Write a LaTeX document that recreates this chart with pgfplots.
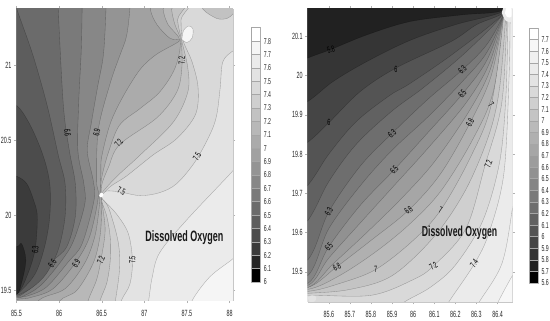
\documentclass[border=0pt]{standalone}
\usepackage{fontspec}
\setmainfont[FakeStretch=0.6]{Liberation Sans}
\usepackage{pgfplots}
\pgfplotsset{compat=1.18}
% grey of each contour band, left chart 6.0 ... 7.9
\definecolor{la}{gray}{.00}\definecolor{lb}{gray}{.144}\definecolor{lc}{gray}{.23}\definecolor{ld}{gray}{.30}
\definecolor{le}{gray}{.365}\definecolor{lf}{gray}{.42}\definecolor{lg}{gray}{.48}\definecolor{lh}{gray}{.53}
\definecolor{li}{gray}{.58}\definecolor{lj}{gray}{.63}\definecolor{lk}{gray}{.67}\definecolor{ll}{gray}{.72}
\definecolor{lm}{gray}{.76}\definecolor{ln}{gray}{.81}\definecolor{lo}{gray}{.85}\definecolor{lp}{gray}{.89}
\definecolor{lq}{gray}{.92}\definecolor{lr}{gray}{.96}\definecolor{ls}{gray}{1}
% grey of each contour band, right chart 5.6 ... 7.8
\definecolor{ra}{gray}{.00}\definecolor{rb}{gray}{.13}\definecolor{rc}{gray}{.207}\definecolor{rd}{gray}{.27}
\definecolor{re}{gray}{.33}\definecolor{rf}{gray}{.38}\definecolor{rg}{gray}{.43}\definecolor{rh}{gray}{.48}
\definecolor{ri}{gray}{.52}\definecolor{rj}{gray}{.57}\definecolor{rk}{gray}{.61}\definecolor{rl}{gray}{.65}
\definecolor{rm}{gray}{.69}\definecolor{rn}{gray}{.73}\definecolor{ro}{gray}{.77}\definecolor{rp}{gray}{.81}
\definecolor{rq}{gray}{.85}\definecolor{rr}{gray}{.89}\definecolor{rs}{gray}{.92}\definecolor{rt}{gray}{.94}
\definecolor{ru}{gray}{.97}\definecolor{rv}{gray}{1}
\tikzset{lab/.style={font=\fontsize{9}{9}\selectfont,text=black,inner sep=0pt}}
\pgfplotsset{
  c/.style={draw=black,draw opacity=.28,line width=.35pt,fill=#1,smooth,tension=.55,mark=none},
  w/.style={draw=none,fill=#1,smooth,tension=.55,mark=none},
  b/.style={draw=black!35,line width=.4pt,fill=#1,mark=none},
  panel/.style={scale only axis,anchor=south west,
    tick align=outside,major tick length=2.5pt,
    tick style={color=black!30,line width=.4pt},
    axis line style={color=black!22,line width=.4pt},
    tick label style={font=\fontsize{9}{9}\selectfont,text=black!85},
    /pgf/number format/assume math mode=true,
    /pgf/number format/fixed,/pgf/number format/precision=1,
    xticklabel style={yshift=-3.5pt},
    yticklabel style={xshift=1pt},
    clip=true},
  cbar/.style={scale only axis,anchor=south west,xmin=0,xmax=1,xtick=\empty,
    ytick pos=right,yticklabel pos=right,major tick length=0pt,
    axis line style={color=black!30,line width=.4pt},
    tick label style={font=\fontsize{8.6}{9}\selectfont,text=black!85},
    /pgf/number format/assume math mode=true,
    yticklabel style={xshift=0pt}}
}
\begin{document}
\begin{tikzpicture}
\path[use as bounding box] (0pt,0pt) rectangle (550pt,321pt);
% ---------- left contour chart
\begin{axis}[panel,at={(16.5pt,20.3pt)},width=216.5pt,height=291.7pt,
  xmin=85.5,xmax=88.04,ymin=19.43,ymax=21.373,
  xtick={85.5,86,86.5,87,87.5,88},ytick={19.5,20,20.5,21}]
\addplot[fill=lr,draw=none] coordinates {(85,19) (89,19) (89,22) (85,22)};
\addplot[c=lq] coordinates {(87.5,19.3)(87.56,19.43)(87.77,19.59)(88.04,19.71)(88.15,19.78)(88.25,20)(88.25,21.5)(85.3,21.5)(85.3,19.3)};
\addplot[c=lp] coordinates {(87.0,19.3)(87.05,19.43)(87.09,19.58)(87.18,19.75)(87.5,19.97)(88.03,20.29)(88.15,20.38)(88.25,20.6)(88.25,21.5)(85.3,21.5)(85.3,19.3)};
\addplot[c=lo] coordinates {(86.68,19.3)(86.73,19.43)(86.83,19.54)(86.86,19.70)(86.81,19.88)(86.67,20.01)(86.52,20.1)(86.49,20.13)(86.55,20.16)(86.71,20.155)(86.95,20.13)(87.18,20.15)(87.38,20.21)(87.6,20.36)(87.78,20.55)(87.85,20.67)(87.89,20.85)(87.92,21.02)(88.03,21.09)(88.15,21.12)(88.25,21.2)(88.25,21.5)(85.3,21.5)(85.3,19.3)};
\addplot[c=ln] coordinates {(86.61,19.3)(86.66,19.43)(86.71,19.65)(86.69,19.83)(86.58,20.05)(86.5,20.12)(86.6,20.19)(86.79,20.26)(87.1,20.4)(87.38,20.51)(87.6,20.67)(87.63,20.85)(87.56,21.02)(87.45,21.17)(87.43,21.3)(87.43,21.5)(85.3,21.5)(85.3,19.3)};
\addplot[c=lm] coordinates {(86.43,19.3)(86.48,19.43)(86.56,19.55)(86.60,19.7)(86.6,19.85)(86.56,19.99)(86.49,20.12)(86.55,20.18)(86.7,20.27)(86.95,20.4)(87.34,20.62)(87.51,20.82)(87.51,20.98)(87.44,21.16)(87.39,21.3)(87.39,21.5)(85.3,21.5)(85.3,19.3)};
\addplot[c=ll] coordinates {(86.29,19.3)(86.34,19.43)(86.44,19.57)(86.49,19.70)(86.54,19.9)(86.5,20.1)(86.5,20.2)(86.58,20.32)(86.71,20.47)(87.15,20.65)(87.38,20.82)(87.44,20.98)(87.43,21.16)(87.36,21.267)(87.32,21.37)(87.32,21.5)(85.3,21.5)(85.3,19.3)};
\addplot[c=lk] coordinates {(85.95,19.3)(86.01,19.43)(86.21,19.5)(86.40,19.68)(86.48,19.86)(86.5,20.05)(86.49,20.15)(86.5,20.25)(86.58,20.42)(86.71,20.6)(86.95,20.71)(87.18,20.82)(87.36,20.98)(87.42,21.16)(87.28,21.267)(87.22,21.37)(87.22,21.5)(85.3,21.5)(85.3,19.3)};
\addplot[c=lj] coordinates {(85.55,19.3)(85.78,19.44)(86.07,19.51)(86.30,19.68)(86.42,19.86)(86.47,20.05)(86.48,20.14)(86.49,20.28)(86.50,20.39)(86.60,20.61)(86.75,20.79)(86.95,20.97)(87.14,21.07)(87.41,21.16)(87.3,21.178)(87.15,21.267)(87.07,21.37)(87.07,21.5)(85.3,21.5)(85.3,19.3)};
\addplot[c=li] coordinates {(86.83,21.5)(86.83,21.373)(86.79,21.19)(86.71,21.06)(86.6,20.88)(86.46,20.57)(86.44,20.23)(86.46,20.12)(86.36,19.86)(86.2,19.69)(85.93,19.51)(85.66,19.45)(85.52,19.44)(85.3,19.42)(85.2,19.4)(85.2,21.5)};
\addplot[c=lh] coordinates {(86.55,21.5)(86.55,21.373)(86.52,21.07)(86.45,20.85)(86.38,20.62)(86.33,20.43)(86.40,20.23)(86.41,20.10)(86.27,19.81)(86.11,19.69)(85.85,19.52)(85.62,19.46)(85.52,19.45)(85.3,19.44)(85.2,19.4)(85.2,21.5)};
\addplot[c=lg] coordinates {(86.27,21.5)(86.27,21.373)(86.26,21.1)(86.23,20.75)(86.22,20.43)(86.29,20.21)(86.30,20.07)(86.17,19.83)(86.02,19.69)(85.78,19.53)(85.58,19.46)(85.51,19.455)(85.3,19.45)(85.2,19.4)(85.2,21.5)};
\addplot[c=lf] coordinates {(85.99,21.5)(85.99,21.373)(86.05,20.73)(86.12,20.43)(86.19,20.21)(86.19,19.99)(86.09,19.79)(85.92,19.69)(85.74,19.55)(85.56,19.47)(85.5,19.46)(85.3,19.45)(85.2,19.4)(85.2,21.5)};
\addplot[c=le] coordinates {(85.45,21.5)(85.5,21.38)(85.69,21.07)(85.86,20.73)(85.99,20.40)(86.07,20.21)(86.07,19.99)(85.99,19.77)(85.85,19.61)(85.69,19.52)(85.53,19.47)(85.45,19.46)(85.3,19.45)(85.2,19.4)(85.2,21.5)};
\addplot[c=ld] coordinates {(85.3,20.75)(85.5,20.73)(85.66,20.6)(85.81,20.40)(85.89,20.21)(85.89,19.99)(85.83,19.79)(85.72,19.61)(85.54,19.49)(85.45,19.46)(85.3,19.45)};
\addplot[c=lc] coordinates {(85.3,20.3)(85.5,20.26)(85.62,20.21)(85.7,20.1)(85.744,19.99)(85.717,19.767)(85.62,19.59)(85.51,19.48)(85.3,19.46)};
\addplot[c=lb] coordinates {(85.3,19.82)(85.5,19.79)(85.56,19.81)(85.61,19.70)(85.56,19.55)(85.5,19.47)(85.3,19.46)};
\addplot[c=lm] coordinates {(87.65,21.45)(87.69,21.37)(87.85,21.31)(87.97,21.31)(88.04,21.34)(88.15,21.4)(88.15,21.5)};
\addplot[c=lr] coordinates {(87.44,21.17)(87.46,21.23)(87.52,21.26)(87.57,21.24)(87.56,21.18)(87.5,21.15)(87.44,21.17)};
\addplot[w=ls] coordinates {(86.47,20.13)(86.49,20.15)(86.52,20.14)(86.505,20.12)(86.48,20.12)(86.47,20.13)};
\node[lab,rotate=-85] at (axis cs:86.1,20.55) {6.6};
\node[lab,rotate=80] at (axis cs:86.44,20.55) {6.9};
\node[lab,rotate=55] at (axis cs:86.7,20.48) {7.2};
\node[lab,rotate=60] at (axis cs:87.62,20.39) {7.5};
\node[lab,rotate=-20] at (axis cs:86.73,20.16) {7.5};
\node[lab,rotate=90] at (axis cs:87.44,21.03) {7.2};
\node[lab,rotate=85] at (axis cs:85.72,19.77) {6.3};
\node[lab,rotate=55] at (axis cs:85.92,19.68) {6.6};
\node[lab,rotate=55] at (axis cs:86.2,19.68) {6.9};
\node[lab,rotate=70] at (axis cs:86.49,19.70) {7.2};
\node[lab,rotate=90] at (axis cs:86.86,19.70) {7.5};
\node[font=\fontsize{15}{15}\selectfont\bfseries,text=black!90,inner sep=0pt] at (axis cs:87.47,19.85) {Dissolved Oxygen};
\end{axis}
% ---------- left colour bar
\begin{axis}[cbar,at={(251pt,39pt)},width=9.3pt,height=254.3pt,ymin=6,ymax=7.9,
  ytick={6,6.1,6.2,6.3,6.4,6.5,6.6,6.7,6.8,6.9,7,7.1,7.2,7.3,7.4,7.5,7.6,7.7,7.8},
  yticklabels={6,6.1,6.2,6.3,6.4,6.5,6.6,6.7,6.8,6.9,7,7.1,7.2,7.3,7.4,7.5,7.6,7.7,7.8}]
\addplot[b=la] coordinates {(0,6.0)(1,6.0)(1,6.1)(0,6.1)} --cycle;
\addplot[b=lb] coordinates {(0,6.1)(1,6.1)(1,6.2)(0,6.2)} --cycle;
\addplot[b=lc] coordinates {(0,6.2)(1,6.2)(1,6.3)(0,6.3)} --cycle;
\addplot[b=ld] coordinates {(0,6.3)(1,6.3)(1,6.4)(0,6.4)} --cycle;
\addplot[b=le] coordinates {(0,6.4)(1,6.4)(1,6.5)(0,6.5)} --cycle;
\addplot[b=lf] coordinates {(0,6.5)(1,6.5)(1,6.6)(0,6.6)} --cycle;
\addplot[b=lg] coordinates {(0,6.6)(1,6.6)(1,6.7)(0,6.7)} --cycle;
\addplot[b=lh] coordinates {(0,6.7)(1,6.7)(1,6.8)(0,6.8)} --cycle;
\addplot[b=li] coordinates {(0,6.8)(1,6.8)(1,6.9)(0,6.9)} --cycle;
\addplot[b=lj] coordinates {(0,6.9)(1,6.9)(1,7.0)(0,7.0)} --cycle;
\addplot[b=lk] coordinates {(0,7.0)(1,7.0)(1,7.1)(0,7.1)} --cycle;
\addplot[b=ll] coordinates {(0,7.1)(1,7.1)(1,7.2)(0,7.2)} --cycle;
\addplot[b=lm] coordinates {(0,7.2)(1,7.2)(1,7.3)(0,7.3)} --cycle;
\addplot[b=ln] coordinates {(0,7.3)(1,7.3)(1,7.4)(0,7.4)} --cycle;
\addplot[b=lo] coordinates {(0,7.4)(1,7.4)(1,7.5)(0,7.5)} --cycle;
\addplot[b=lp] coordinates {(0,7.5)(1,7.5)(1,7.6)(0,7.6)} --cycle;
\addplot[b=lq] coordinates {(0,7.6)(1,7.6)(1,7.7)(0,7.7)} --cycle;
\addplot[b=lr] coordinates {(0,7.7)(1,7.7)(1,7.8)(0,7.8)} --cycle;
\addplot[b=ls] coordinates {(0,7.8)(1,7.8)(1,7.9)(0,7.9)} --cycle;
\end{axis}
% ---------- right contour chart
\begin{axis}[panel,at={(307.7pt,19pt)},width=204.6pt,height=293pt,
  xmin=85.5,xmax=86.47,ymin=19.423,ymax=20.17,
  xtick={85.6,85.7,85.8,85.9,86,86.1,86.2,86.3,86.4},
  ytick={19.5,19.6,19.7,19.8,19.9,20,20.1}]
\addplot[fill=ru,draw=none] coordinates {(85,19) (87,19) (87,21) (85,21)};
\addplot[c=rt] coordinates {(86.35,19.36)(86.40,19.42)(86.47,19.49)(86.55,19.56)(86.6,19.7)(86.6,20.25)(85.3,20.25)(85.3,19.36)};
\addplot[c=rs] coordinates {(86.25,19.36)(86.31,19.42)(86.42,19.52)(86.47,19.66)(86.5,19.8)(86.52,19.95)(86.55,20.25)(85.3,20.25)(85.3,19.36)};
\addplot[c=rr] coordinates {(86.1,19.36)(86.165,19.42)(86.29,19.52)(86.36,19.6)(86.43,19.75)(86.455,20.0)(86.46,20.17)(86.46,20.22)(86.4,20.25)(85.3,20.25)(85.3,19.36)};
\addplot[c=rq] coordinates {(85.88,19.38)(85.95,19.42)(86.08,19.46)(86.2,19.517)(86.33,19.63)(86.41,19.78)(86.44,19.95)(86.45,20.16)(86.45,20.21)(86.4,20.25)(85.3,20.25)(85.3,19.38)};
\addplot[c=rp] coordinates {(85.3,19.43)(85.5,19.44)(85.8,19.44)(86.0,19.48)(86.096,19.515)(86.25,19.61)(86.34,19.77)(86.42,19.93)(86.445,20.16)(86.445,20.21)(86.4,20.25)(85.2,20.25)};
\addplot[c=ro] coordinates {(85.3,19.44)(85.5,19.445)(85.7,19.455)(85.9,19.49)(86.1,19.59)(86.25,19.71)(86.36,19.85)(86.41,19.97)(86.44,20.16)(86.44,20.21)(86.4,20.25)(85.2,20.25)};
\addplot[c=rn] coordinates {(85.3,19.45)(85.5,19.45)(85.65,19.47)(85.823,19.506)(86.0,19.58)(86.13,19.657)(86.27,19.79)(86.37,19.925)(86.43,20.16)(86.43,20.21)(86.38,20.25)(85.2,20.25)};
\addplot[c=rm] coordinates {(85.3,19.455)(85.5,19.455)(85.65,19.49)(85.82,19.55)(85.98,19.62)(86.13,19.705)(86.28,19.835)(86.38,19.96)(86.43,20.16)(86.43,20.21)(86.38,20.25)(85.2,20.25)};
\addplot[c=rl] coordinates {(85.3,19.46)(85.5,19.46)(85.638,19.513)(85.8,19.58)(85.978,19.657)(86.13,19.75)(86.27,19.88)(86.37,20.0)(86.43,20.16)(86.43,20.21)(86.38,20.25)(85.2,20.25)};
\addplot[c=rk] coordinates {(85.3,19.46)(85.5,19.46)(85.62,19.52)(85.78,19.6)(85.95,19.69)(86.1,19.78)(86.26,19.905)(86.365,20.015)(86.43,20.16)(86.43,20.21)(86.38,20.25)(85.2,20.25)};
\addplot[c=rj] coordinates {(85.3,19.46)(85.5,19.465)(85.6,19.535)(85.75,19.625)(85.91,19.72)(86.07,19.815)(86.25,19.93)(86.36,20.03)(86.43,20.16)(86.43,20.21)(86.38,20.25)(85.2,20.25)};
\addplot[c=ri] coordinates {(85.3,19.46)(85.5,19.47)(85.6,19.564)(85.75,19.67)(85.91,19.76)(86.07,19.855)(86.233,19.953)(86.35,20.04)(86.43,20.16)(86.43,20.21)(86.38,20.25)(85.2,20.25)};
\addplot[c=rh] coordinates {(85.3,19.46)(85.5,19.49)(85.6,19.61)(85.75,19.72)(85.9,19.81)(86.07,19.895)(86.233,19.985)(86.35,20.06)(86.43,20.16)(86.43,20.21)(86.38,20.25)(85.2,20.25)};
\addplot[c=rg] coordinates {(85.3,19.46)(85.5,19.53)(85.6,19.653)(85.75,19.77)(85.9,19.853)(86.07,19.94)(86.233,20.015)(86.35,20.08)(86.43,20.16)(86.43,20.21)(86.38,20.25)(85.2,20.25)};
\addplot[c=rf] coordinates {(85.3,19.5)(85.5,19.63)(85.6,19.73)(85.73,19.825)(85.9,19.91)(86.05,19.97)(86.25,20.06)(86.43,20.16)(86.43,20.21)(86.38,20.25)(85.2,20.25)};
\addplot[c=re] coordinates {(85.3,19.6)(85.5,19.72)(85.6,19.80)(85.73,19.883)(85.89,19.95)(85.985,19.98)(86.2,20.06)(86.43,20.16)(86.43,20.21)(86.38,20.25)(85.2,20.25)};
\addplot[c=rd] coordinates {(85.3,19.75)(85.5,19.83)(85.6,19.88)(85.75,19.96)(85.92,20.02)(86.18,20.087)(86.3,20.13)(86.43,20.162)(86.43,20.21)(86.38,20.25)(85.2,20.25)};
\addplot[c=rc] coordinates {(85.3,19.87)(85.5,19.934)(85.62,19.985)(85.78,20.036)(85.985,20.09)(86.2,20.13)(86.43,20.165)(86.43,20.21)(86.38,20.25)(85.2,20.25)};
\addplot[c=rb] coordinates {(85.3,20.0)(85.5,20.045)(85.606,20.066)(85.78,20.104)(85.985,20.138)(86.23,20.155)(86.42,20.166)(86.42,20.21)(86.38,20.25)(85.2,20.25)};
\addplot[w=rs] coordinates {(86.42,20.16)(86.435,20.18)(86.47,20.18)(86.47,20.14)(86.44,20.14)(86.42,20.16)};
\addplot[w=rv] coordinates {(86.435,20.16)(86.445,20.175)(86.465,20.172)(86.465,20.15)(86.445,20.15)(86.435,20.16)};
\addplot[w=rr] coordinates {(85.5,19.435)(85.52,19.44)(85.54,19.436)(85.535,19.425)(85.51,19.423)(85.5,19.435)};
\node[lab,rotate=15] at (axis cs:85.61,20.066) {5.8};
\node[lab] at (axis cs:85.6,19.88) {6};
\node[lab] at (axis cs:85.918,20.017) {6};
\node[lab,rotate=40] at (axis cs:85.9,19.853) {6.3};
\node[lab,rotate=50] at (axis cs:85.91,19.76) {6.5};
\node[lab,rotate=45] at (axis cs:86.233,20.015) {6.3};
\node[lab,rotate=50] at (axis cs:86.233,19.953) {6.5};
\node[lab,rotate=60] at (axis cs:86.27,19.88) {6.8};
\node[lab,rotate=-50] at (axis cs:86.37,19.925) {7};
\node[lab,rotate=70] at (axis cs:86.357,19.775) {7.2};
\node[lab,rotate=60] at (axis cs:85.6,19.653) {6.3};
\node[lab,rotate=50] at (axis cs:85.6,19.564) {6.5};
\node[lab,rotate=30] at (axis cs:85.638,19.513) {6.8};
\node[lab,rotate=40] at (axis cs:85.978,19.657) {6.8};
\node[lab,rotate=-20] at (axis cs:86.13,19.657) {7};
\node[lab,rotate=5] at (axis cs:85.823,19.506) {7};
\node[lab,rotate=35] at (axis cs:86.096,19.515) {7.2};
\node[lab,rotate=55] at (axis cs:86.289,19.521) {7.4};
\node[font=\fontsize{14.5}{15}\selectfont\bfseries,text=black!90,inner sep=0pt] at (axis cs:86.22,19.6) {Dissolved Oxygen};
\end{axis}
% ---------- right colour bar
\begin{axis}[cbar,at={(529pt,38pt)},width=9pt,height=255pt,ymin=5.6,ymax=7.8,
  ytick={5.6,5.7,5.8,5.9,6,6.1,6.2,6.3,6.4,6.5,6.6,6.7,6.8,6.9,7,7.1,7.2,7.3,7.4,7.5,7.6,7.7},
  yticklabels={5.6,5.7,5.8,5.9,6,6.1,6.2,6.3,6.4,6.5,6.6,6.7,6.8,6.9,7,7.1,7.2,7.3,7.4,7.5,7.6,7.7}]
\addplot[b=ra] coordinates {(0,5.6)(1,5.6)(1,5.7)(0,5.7)} --cycle;
\addplot[b=rb] coordinates {(0,5.7)(1,5.7)(1,5.8)(0,5.8)} --cycle;
\addplot[b=rc] coordinates {(0,5.8)(1,5.8)(1,5.9)(0,5.9)} --cycle;
\addplot[b=rd] coordinates {(0,5.9)(1,5.9)(1,6.0)(0,6.0)} --cycle;
\addplot[b=re] coordinates {(0,6.0)(1,6.0)(1,6.1)(0,6.1)} --cycle;
\addplot[b=rf] coordinates {(0,6.1)(1,6.1)(1,6.2)(0,6.2)} --cycle;
\addplot[b=rg] coordinates {(0,6.2)(1,6.2)(1,6.3)(0,6.3)} --cycle;
\addplot[b=rh] coordinates {(0,6.3)(1,6.3)(1,6.4)(0,6.4)} --cycle;
\addplot[b=ri] coordinates {(0,6.4)(1,6.4)(1,6.5)(0,6.5)} --cycle;
\addplot[b=rj] coordinates {(0,6.5)(1,6.5)(1,6.6)(0,6.6)} --cycle;
\addplot[b=rk] coordinates {(0,6.6)(1,6.6)(1,6.7)(0,6.7)} --cycle;
\addplot[b=rl] coordinates {(0,6.7)(1,6.7)(1,6.8)(0,6.8)} --cycle;
\addplot[b=rm] coordinates {(0,6.8)(1,6.8)(1,6.9)(0,6.9)} --cycle;
\addplot[b=rn] coordinates {(0,6.9)(1,6.9)(1,7.0)(0,7.0)} --cycle;
\addplot[b=ro] coordinates {(0,7.0)(1,7.0)(1,7.1)(0,7.1)} --cycle;
\addplot[b=rp] coordinates {(0,7.1)(1,7.1)(1,7.2)(0,7.2)} --cycle;
\addplot[b=rq] coordinates {(0,7.2)(1,7.2)(1,7.3)(0,7.3)} --cycle;
\addplot[b=rr] coordinates {(0,7.3)(1,7.3)(1,7.4)(0,7.4)} --cycle;
\addplot[b=rs] coordinates {(0,7.4)(1,7.4)(1,7.5)(0,7.5)} --cycle;
\addplot[b=rt] coordinates {(0,7.5)(1,7.5)(1,7.6)(0,7.6)} --cycle;
\addplot[b=ru] coordinates {(0,7.6)(1,7.6)(1,7.7)(0,7.7)} --cycle;
\addplot[b=rv] coordinates {(0,7.7)(1,7.7)(1,7.8)(0,7.8)} --cycle;
\end{axis}
\end{tikzpicture}
\end{document}
